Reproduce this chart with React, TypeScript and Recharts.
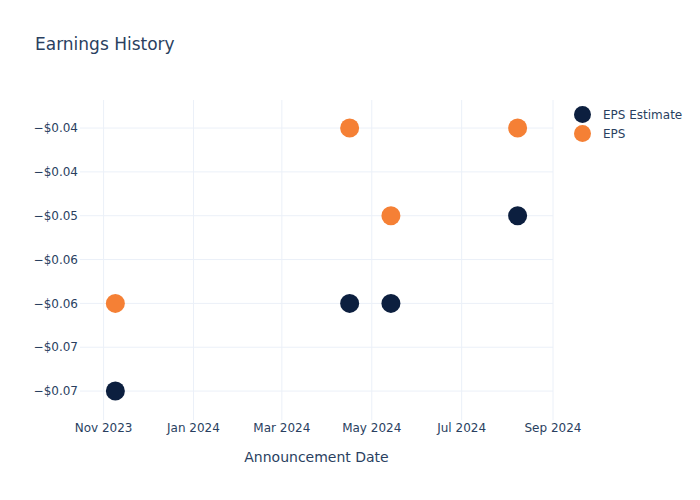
import React from "react";
import {
  ScatterChart,
  Scatter,
  XAxis,
  YAxis,
  ReferenceLine,
} from "recharts";

const dates = ["2023-11-09", "2024-04-16", "2024-05-14", "2024-08-08"];
const epsEstimate = [-0.065, -0.055, -0.055, -0.045];
const epsActual = [-0.055, -0.035, -0.045, -0.035];

const xTickDates = ["2023-11-01", "2024-01-01", "2024-03-01", "2024-05-01", "2024-07-01", "2024-09-01"];
const xTickLabels = ["Nov 2023", "Jan 2024", "Mar 2024", "May 2024", "Jul 2024", "Sep 2024"];
const yTicks = [-0.035, -0.04, -0.045, -0.05, -0.055, -0.06, -0.065];
const yTickLabels = ["−$0.04", "−$0.04", "−$0.05", "−$0.06", "−$0.06", "−$0.07", "−$0.07"];

const toTs = (d: string) => Date.parse(d + "T00:00:00Z");

const estimateData = dates.map((d, i) => ({ t: toTs(d), v: epsEstimate[i] }));
const actualData = dates.map((d, i) => ({ t: toTs(d), v: epsActual[i] }));
const xTicks = xTickDates.map(toTs);

const NAVY = "#0c1f3f";
const ORANGE = "#f58035";
const TEXT = "#2a3f5f";
const GRID = "#ebf0f8";
const FONT = "DejaVu Sans, Verdana, sans-serif";

const dot = (color: string) => (props: any) => (
  <circle cx={props.cx} cy={props.cy} r={9.5} fill={color} />
);

export default function App() {
  return (
    <div style={{ position: "absolute", left: 0, top: 0, width: 700, height: 500, background: "#fff", fontFamily: FONT }}>
      <div style={{ position: "absolute", left: 35, top: 34, fontSize: 17, color: TEXT }}>
        Earnings History
      </div>
      <ScatterChart
        width={700}
        height={500}
        margin={{ top: 100, right: 147, bottom: 50, left: 0 }}
      >
        <XAxis
          type="number"
          dataKey="t"
          domain={[toTs("2023-10-16"), toTs("2024-09-01")]}
          ticks={xTicks}
          tickFormatter={(v: number) => xTickLabels[xTicks.indexOf(v)] ?? ""}
          axisLine={false}
          tickLine={false}
          tickSize={0}
          tickMargin={3}
          height={30}
          allowDataOverflow
          tick={{ fill: TEXT, fontSize: 12, fontFamily: FONT }}
          interval={0}
        />
        <YAxis
          type="number"
          dataKey="v"
          domain={[-0.0683, -0.0318]}
          ticks={yTicks}
          tickFormatter={(v: number) => yTickLabels[yTicks.indexOf(v)] ?? ""}
          axisLine={false}
          tickLine={false}
          tickSize={0}
          tickMargin={2}
          width={80}
          allowDataOverflow
          tick={{ fill: TEXT, fontSize: 12, fontFamily: FONT }}
          interval={0}
        />
        {yTicks.map((t) => (
          <ReferenceLine key={"y" + t} y={t} stroke={GRID} strokeWidth={1} />
        ))}
        {xTicks.map((t) => (
          <ReferenceLine key={"x" + t} x={t} stroke={GRID} strokeWidth={1} />
        ))}
        <Scatter name="EPS Estimate" data={estimateData} fill={NAVY} shape={dot(NAVY)} isAnimationActive={false} />
        <Scatter name="EPS" data={actualData} fill={ORANGE} shape={dot(ORANGE)} isAnimationActive={false} />
      </ScatterChart>
      <div style={{ position: "absolute", left: 0, top: 449, width: 633, textAlign: "center", fontSize: 14, color: TEXT }}>
        Announcement Date
      </div>
      <div style={{ position: "absolute", left: 574, top: 105, fontSize: 12, color: TEXT }}>
        {[
          { name: "EPS Estimate", color: NAVY },
          { name: "EPS", color: ORANGE },
        ].map((s) => (
          <div key={s.name} style={{ display: "flex", alignItems: "center", height: 19 }}>
            <span style={{ display: "inline-block", width: 17, height: 17, borderRadius: "50%", background: s.color, marginRight: 12 }} />
            <span>{s.name}</span>
          </div>
        ))}
      </div>
    </div>
  );
}
